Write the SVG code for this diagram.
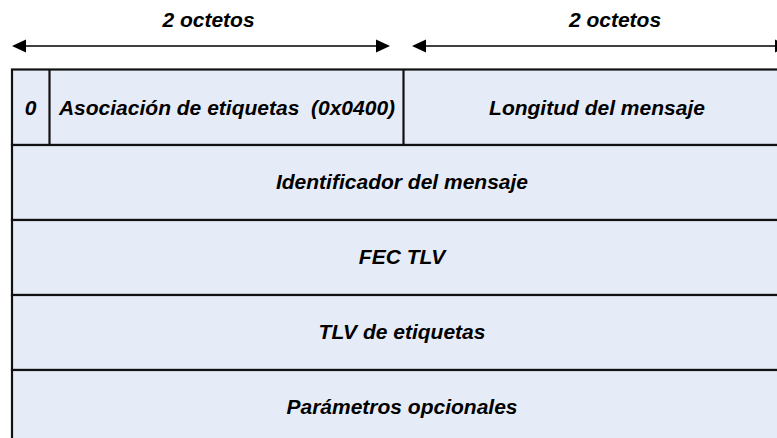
<svg xmlns="http://www.w3.org/2000/svg" width="777" height="438" viewBox="0 0 777 438">
<defs>
<style>
.cell{fill:#E6ECF7;stroke:#111;stroke-width:2.2}
.div{stroke:#111;stroke-width:2.2;fill:none}
.t{font-family:"Liberation Sans",Arial,sans-serif;font-size:21px;font-weight:bold;font-style:italic;fill:#000;text-anchor:middle;white-space:pre}
.arr{stroke:#000;stroke-width:1.3;fill:none}
.head{fill:#000}
</style>
</defs>
<rect width="777" height="438" fill="#fff"/>
<g id="connectors">
<line class="arr" x1="24" y1="46" x2="378" y2="46"/>
<polygon class="head" points="12,46 26,39.5 26,52.5"/>
<polygon class="head" points="390,46 376,39.5 376,52.5"/>
<line class="arr" x1="424" y1="46" x2="777" y2="46"/>
<polygon class="head" points="412,46 426,39.5 426,52.5"/>
<polygon class="head" points="789,46 775,39.5 775,52.5"/>
</g>
<g id="label-left"><text class="t" x="208.5" y="27">2 octetos</text></g>
<g id="label-right"><text class="t" x="615" y="27">2 octetos</text></g>
<g id="row-header">
<rect class="cell" x="12" y="69.5" width="780" height="75.5"/>
<line class="div" x1="49.5" y1="69.5" x2="49.5" y2="145"/>
<line class="div" x1="403.5" y1="69.5" x2="403.5" y2="145"/>
<text class="t" x="30.5" y="115">0</text>
<text class="t" x="227" y="115">Asociación de etiquetas  (0x0400)</text>
<text class="t" x="597" y="115">Longitud del mensaje</text>
</g>
<g id="row-id">
<rect class="cell" x="12" y="145" width="780" height="75"/>
<text class="t" x="402" y="189">Identificador del mensaje</text>
</g>
<g id="row-fec">
<rect class="cell" x="12" y="220" width="780" height="75"/>
<text class="t" x="402" y="264">FEC TLV</text>
</g>
<g id="row-tlv">
<rect class="cell" x="12" y="295" width="780" height="75"/>
<text class="t" x="402" y="339">TLV de etiquetas</text>
</g>
<g id="row-params">
<rect class="cell" x="12" y="370" width="780" height="80"/>
<text class="t" x="402" y="414">Parámetros opcionales</text>
</g>
</svg>
